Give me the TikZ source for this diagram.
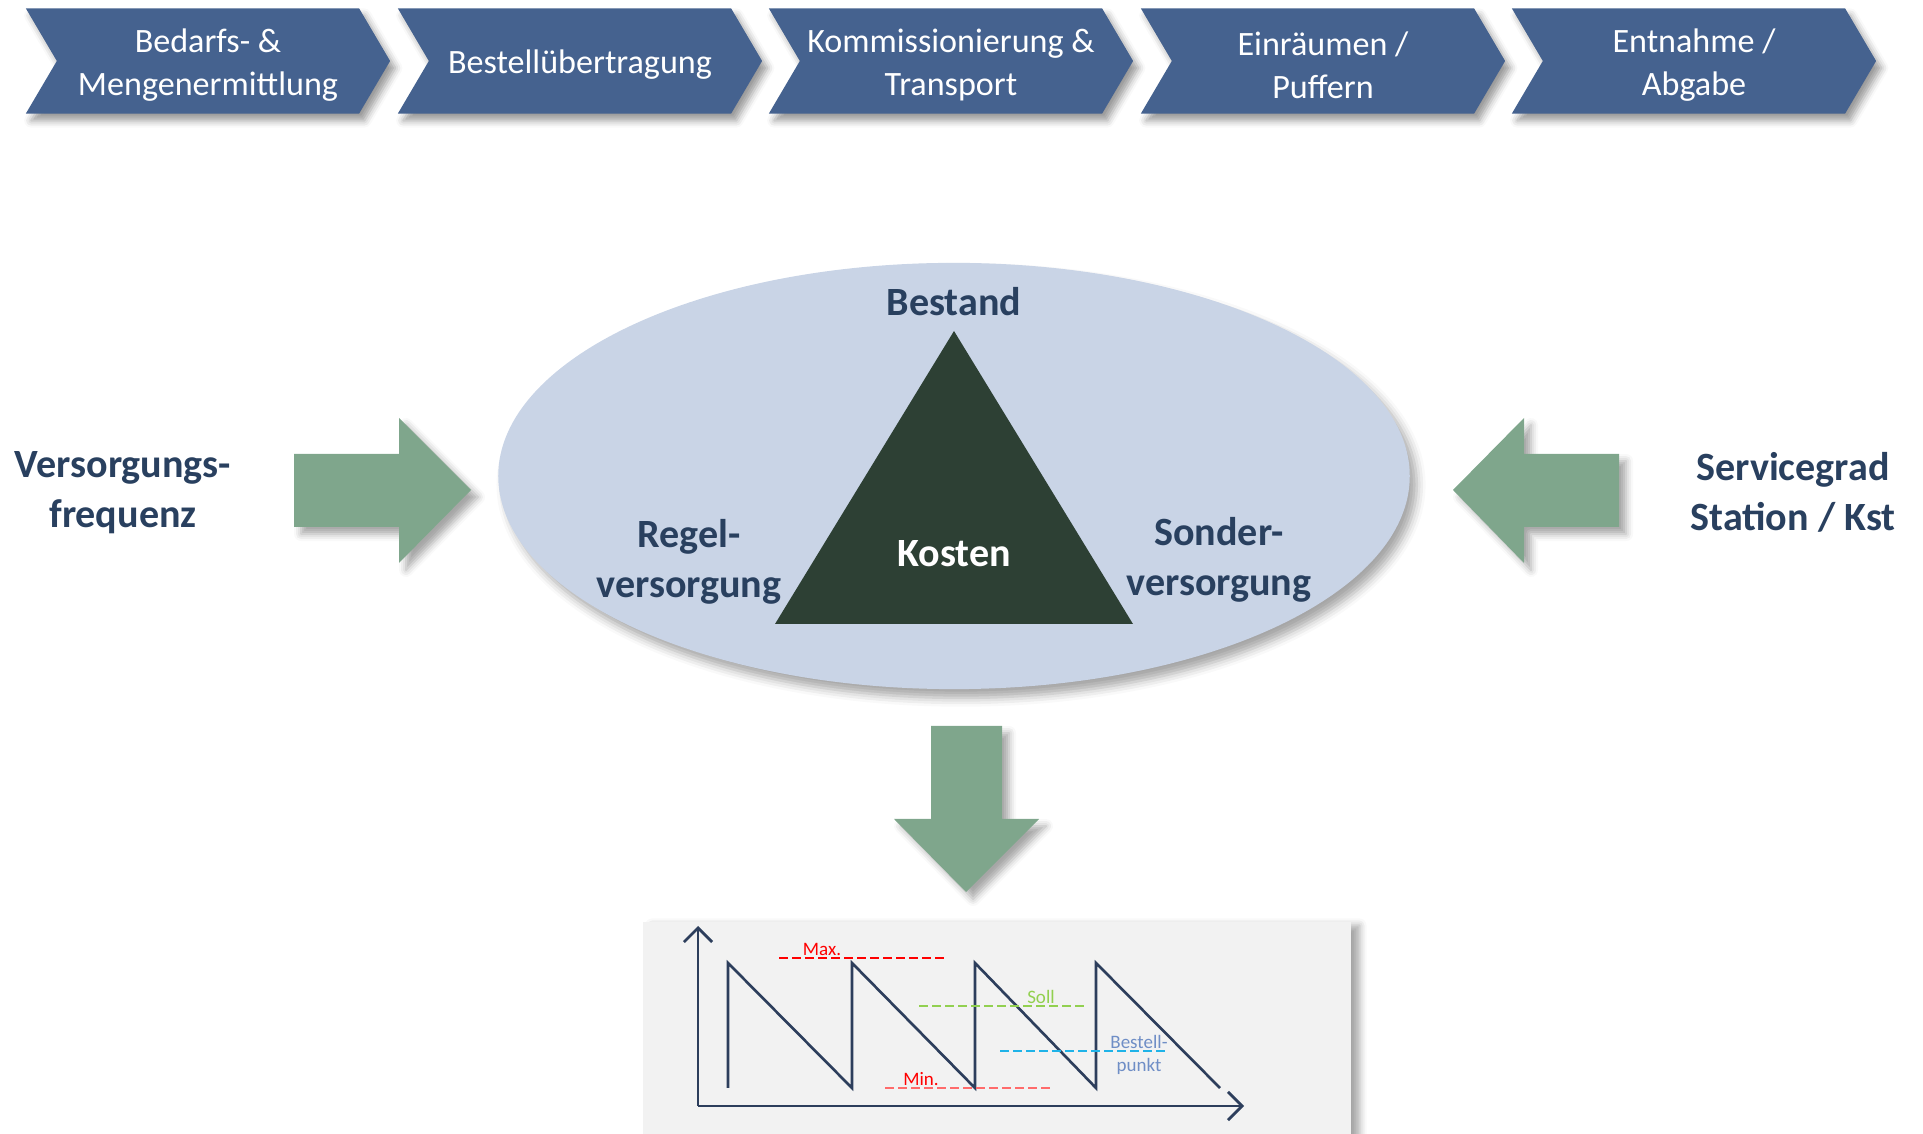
\documentclass[tikz,border=0pt]{standalone}
\usepackage{fontspec}
\setmainfont{Carlito}
\usetikzlibrary{shapes.symbols,shapes.geometric,shadows.blur,arrows.meta}

\definecolor{chevblue}{HTML}{45628F}
\definecolor{ovalblue}{HTML}{C9D4E6}
\definecolor{darkgreen}{HTML}{2D4034}
\definecolor{textnavy}{HTML}{29405F}
\definecolor{arrowgreen}{HTML}{7FA68C}
\definecolor{chartgrey}{HTML}{F2F2F2}
\definecolor{chartline}{HTML}{2D3E5C}
\definecolor{sollgreen}{HTML}{92D050}
\definecolor{bestcyan}{HTML}{1FB3E8}
\definecolor{besttext}{HTML}{6F8EC6}
\definecolor{minred}{HTML}{FF6B6B}

\begin{document}
\begin{tikzpicture}[x=0.01cm, y=-0.01cm,
    chev/.style={signal, signal from=west, signal to=east, signal pointer angle=119,
      fill=chevblue, minimum width=3.64cm, minimum height=1.05cm, inner sep=0pt,
      blur shadow={shadow xshift=1.5pt, shadow yshift=-2pt, shadow opacity=40, shadow blur radius=2pt}},
    chevtext/.style={text=white, align=center, inner sep=0pt, yshift=-1.1pt,
      font=\fontsize{9.7}{12.2}\selectfont},
    lbl/.style={text=textnavy, align=center, font=\fontsize{11.4}{14.3}\selectfont\bfseries},
    bigarrow/.style={fill=arrowgreen, blur shadow={shadow xshift=2pt, shadow yshift=-2pt, shadow opacity=35, shadow blur radius=2pt}},
    axis/.style={chartline, line width=0.8pt, -{Straight Barb[length=4pt,width=8pt]}},
    level/.style={dash pattern=on 2.5pt off 1.2pt, line width=0.55pt},
    small/.style={font=\fontsize{5.4}{6.6}\selectfont, align=center, inner sep=0.5pt}]
    \useasboundingbox (0,0) rectangle (1923,1134);

    % process chain
    \node[chev] (c1) at (208,61) {};
    \node[chev] (c2) at (580,61) {};
    \node[chev] (c3) at (951,61) {};
    \node[chev] (c4) at (1323,61) {};
    \node[chev] (c5) at (1694,61) {};
    \node[chevtext] (t1) at (c1) {Bedarfs- \&\\Mengenermittlung};
    \node[chevtext] (t2) at (c2) {Bestellübertragung};
    \node[chevtext] (t3) at (c3) {Kommissionierung \&\\Transport};
    \node[chevtext] (t4) at (c4) {Einräumen /\\Puffern};
    \node[chevtext] (t5) at (c5) {Entnahme /\\Abgabe};

    % oval with triangle
    \node[ellipse, fill=ovalblue, minimum width=9.11cm, minimum height=4.26cm,
      blur shadow={shadow xshift=2pt, shadow yshift=-2.5pt, shadow opacity=35, shadow blur radius=2.5pt}] (oval) at (954,476) {};
    \coordinate (top) at (954,331);
    \coordinate (bl) at (775,624);
    \coordinate (br) at (1133,624);
    \fill[darkgreen] (top) -- (bl) -- (br) -- cycle;
    \node[lbl] (bestand) at (954,302) {Bestand};
    \node[lbl, text=white] (kosten) at (954,554) {Kosten};
    \node[lbl] (regel) at (689,562) {Regel-\\versorgung};
    \node[lbl] (sonder) at (1219,560) {Sonder-\\versorgung};
    \node[lbl] (freq) at (123,493) {Versorgungs-\\frequenz};
    \node[lbl] (service) at (1793,492) {Servicegrad\\Station / Kst};

    % block arrows
    \fill[bigarrow] (294,454) -- (399,454) -- (399,418) -- (471,490) -- (399,563) -- (399,527) -- (294,527) -- cycle;
    \fill[bigarrow] (1619,454) -- (1524,454) -- (1524,418) -- (1453,490) -- (1524,563) -- (1524,527) -- (1619,527) -- cycle;
    \fill[bigarrow] (931,726) -- (1002,726) -- (1002,819) -- (1039,819) -- (966,892) -- (894,819) -- (931,819) -- cycle;

    % stock chart
    \node[fill=chartgrey, inner sep=0pt, minimum width=7.07cm, minimum height=2.28cm,
      blur shadow={shadow xshift=2.5pt, shadow yshift=-1pt, shadow opacity=35, shadow blur radius=2pt}] (chart) at (997,1036) {};
    \coordinate (o) at (698,1106);
    \coordinate (ymax) at (698,926);
    \coordinate (xmax) at (1244,1106);
    \draw[axis] (o) -- (ymax);
    \draw[axis] (o) -- (xmax);
    \draw[chartline, line width=0.75pt] (728,1088) -- (728,963) -- (852,1088) -- (852,963) -- (975,1088)
      -- (975,963) -- (1096,1088) -- (1096,963) -- (1220,1088);
    \draw[level, red] (779,958) -- (948,958);
    \draw[level, sollgreen] (919,1006) -- (1087,1006);
    \draw[level, bestcyan] (1000,1051) -- (1169,1051);
    \draw[level, minred] (885,1088) -- (1052,1088);
    \node[small, text=red, anchor=south] (max) at (822,958) {Max.};
    \node[small, text=sollgreen, anchor=south] (soll) at (1041,1006) {Soll};
    \node[small, text=besttext] (bestell) at (1139,1055) {Bestell-\\punkt};
    \node[small, text=red, anchor=south] (min) at (921,1088) {Min.};
\end{tikzpicture}
\end{document}
